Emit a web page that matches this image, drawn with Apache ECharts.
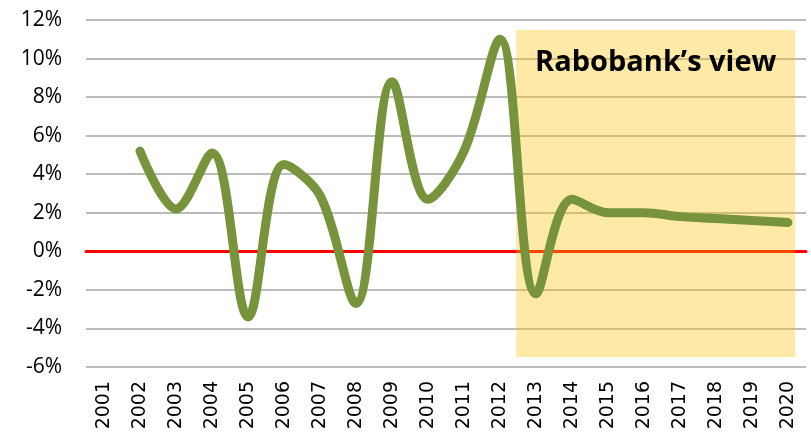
<!DOCTYPE html>
<html>
<head>
<meta charset="utf-8">
<script src="https://cdn.jsdelivr.net/npm/echarts@6/dist/echarts.min.js"></script>
<style>
  html, body { margin: 0; padding: 0; background: #fff; }
  #chart { width: 811px; height: 433px; }
</style>
</head>
<body>
<div id="chart"></div>
<script>
const years = ['2001', '2002', '2003', '2004', '2005', '2006', '2007', '2008', '2009', '2010',
  '2011', '2012', '2013', '2014', '2015', '2016', '2017', '2018', '2019', '2020'];
// growth in %, no value for 2001
const growth = [null, 5.2, 2.2, 5.1, -3.4, 4.5, 2.9, -2.7, 8.8, 2.7,
  5.2, 11.0, -2.2, 2.7, 2.0, 2.0, 1.8, 1.7, 1.6, 1.5];
const viewLabel = 'Rabobank\u2019s view';

const chart = echarts.init(document.getElementById('chart'));
const labelFont = '"Open Sans", "Noto Sans", sans-serif';

const option = {
  animation: false,
  grid: { left: 86, right: 5, top: 20, bottom: 66 },
  xAxis: [
    {
      type: 'category',
      data: years,
      boundaryGap: true,
      axisLine: { onZero: true, lineStyle: { color: '#ff0000', width: 3 } },
      axisTick: { show: false },
      axisLabel: { rotate: 90, margin: 14, fontSize: 19, color: '#000', fontFamily: '"DejaVu Sans", sans-serif' }
    },
    {
      type: 'value',
      min: 2000.5,
      max: 2020.5,
      show: false
    }
  ],
  yAxis: {
    type: 'value',
    min: -6,
    max: 12,
    interval: 2,
    axisLine: { show: false },
    axisTick: { show: false },
    axisLabel: { formatter: '{value}%', margin: 24, fontSize: 21, color: '#000', fontFamily: labelFont },
    splitLine: { lineStyle: { color: '#a6a6a6', width: 1.5 } }
  },
  series: [
    {
      name: 'growth',
      type: 'line',
      data: growth,
      smooth: 0.35,
      symbol: 'none',
      z: 3,
      lineStyle: { color: '#77933c', width: 9, cap: 'round', join: 'round' }
    },
    {
      name: 'view',
      type: 'line',
      xAxisIndex: 1,
      data: [],
      z: 5,
      silent: true,
      markArea: {
        silent: true,
        itemStyle: { color: 'rgba(255, 192, 0, 0.35)' },
        label: {
          show: true,
          position: 'insideTop',
          distance: 18,
          color: '#000',
          fontSize: 29,
          fontWeight: 'bold',
          fontFamily: labelFont,
          formatter: viewLabel
        },
        data: [[
          { xAxis: 2012.45, yAxis: -5.48 },
          { xAxis: 2020.2, yAxis: 11.48 }
        ]]
      }
    }
  ]
};
chart.setOption(option);
</script>
</body>
</html>
